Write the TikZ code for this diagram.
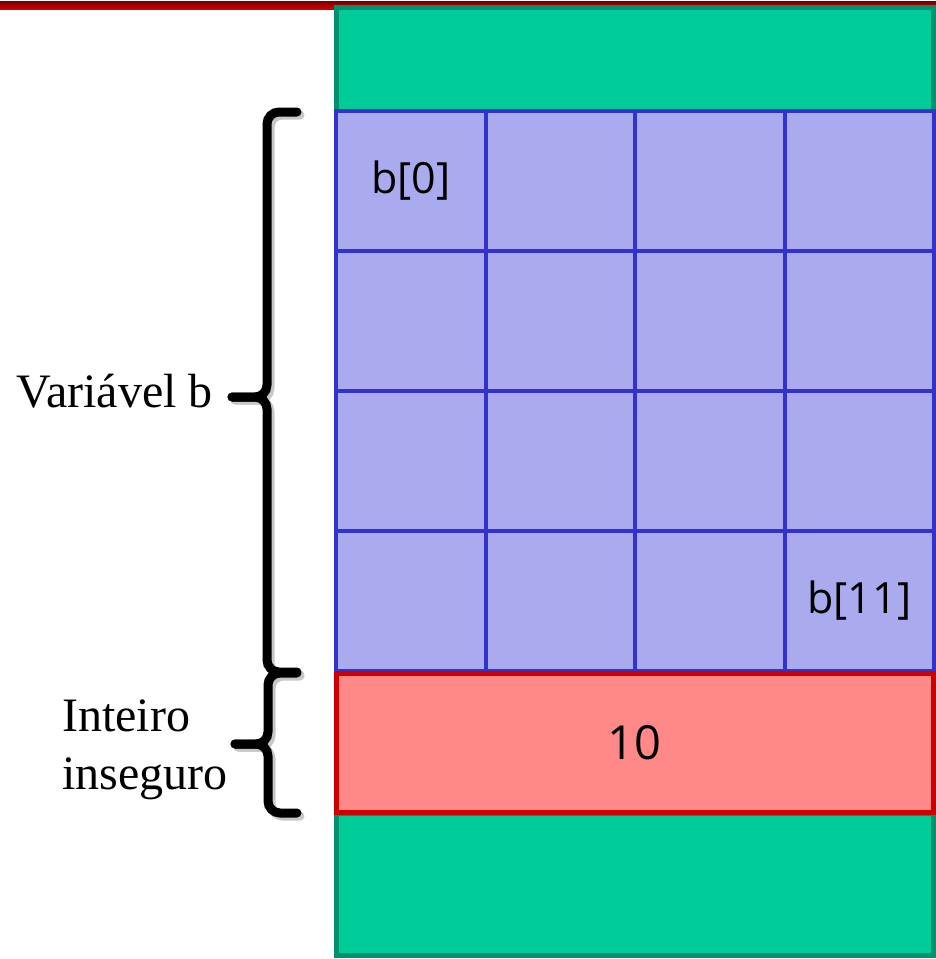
\documentclass[tikz,border=0pt]{standalone}
\usepackage{fontspec}
\setmainfont{Liberation Serif}
\newfontfamily\cellfont{Open Sans}
\usetikzlibrary{positioning}

\definecolor{stackgreen}{HTML}{00CC99}
\definecolor{stackgreenline}{HTML}{009270}
\definecolor{arrblue}{HTML}{AAAAEE}
\definecolor{arrblueline}{HTML}{3333CC}
\definecolor{intred}{HTML}{FF8888}
\definecolor{intredline}{HTML}{CC0000}

\tikzset{
  greenslot/.style={draw=stackgreenline, fill=stackgreen, line width=5pt, inner sep=0pt, minimum width=597pt},
  cell/.style={draw=arrblueline, fill=arrblue, line width=4pt, inner sep=0pt, minimum width=149.5pt, minimum height=140pt},
  celltext/.style={font=\cellfont\fontsize{43}{50}\selectfont},
  intbox/.style={draw=intredline, fill=intred, line width=5pt, inner sep=0pt, minimum width=597pt, minimum height=139pt, font=\cellfont\fontsize{47}{52}\selectfont},
  bracket/.style={line width=9pt, rounded corners=12pt, line cap=round},
  bracketshadow/.style={bracket, black!22},
  sidelabel/.style={font=\fontsize{48}{58}\selectfont, inner sep=0pt}
}

\begin{document}
\begin{tikzpicture}[x=1pt, y=-1pt]
  \useasboundingbox (0,0) rectangle (936,959);

  % frame line on top
  \shade[top color=red!45!black, bottom color=red!85!black] (0,1) rectangle (936,9);

  % stack slots
  \node[greenslot, minimum height=104pt] (slotTop) at (634.5,59) {};
  \node[greenslot, minimum height=142pt] (slotBottom) at (634.5,884) {};

  % array b
  \foreach \r in {0,...,3}
    \foreach \c in {0,...,3}
      \node[cell] (c\r\c) at ({336+149.5*(\c+0.5)},{111+140*(\r+0.5)}) {};
  \node[celltext] (first) at (c00) {b[0]};
  \node[celltext] (last) at (c33) {b[11]};

  % unsafe integer
  \node[intbox] (unsafe) at (634.5,743) {10};

  % braces
  \draw[bracketshadow] (300,115) -- (270,115) -- (270,400) -- (235,400);
  \draw[bracketshadow] (235,400) -- (270,400) -- (270,675) -- (300,675);
  \draw[bracket] (297,112) -- (267,112) -- (267,397) -- (232,397);
  \draw[bracket] (232,397) -- (267,397) -- (267,672) -- (297,672);
  \draw[bracketshadow] (300,676) -- (271,676) -- (271,747) -- (238,747);
  \draw[bracketshadow] (238,747) -- (271,747) -- (271,816) -- (300,816);
  \draw[bracket] (297,673) -- (268,673) -- (268,744) -- (235,744);
  \draw[bracket] (235,744) -- (268,744) -- (268,813) -- (297,813);

  % labels
  \node[sidelabel, anchor=base east] (varLabel) at (213,407) {Variável b};
  \node[sidelabel, anchor=west, align=left] (intLabel) at (62,750) {Inteiro\\inseguro};
\end{tikzpicture}
\end{document}
